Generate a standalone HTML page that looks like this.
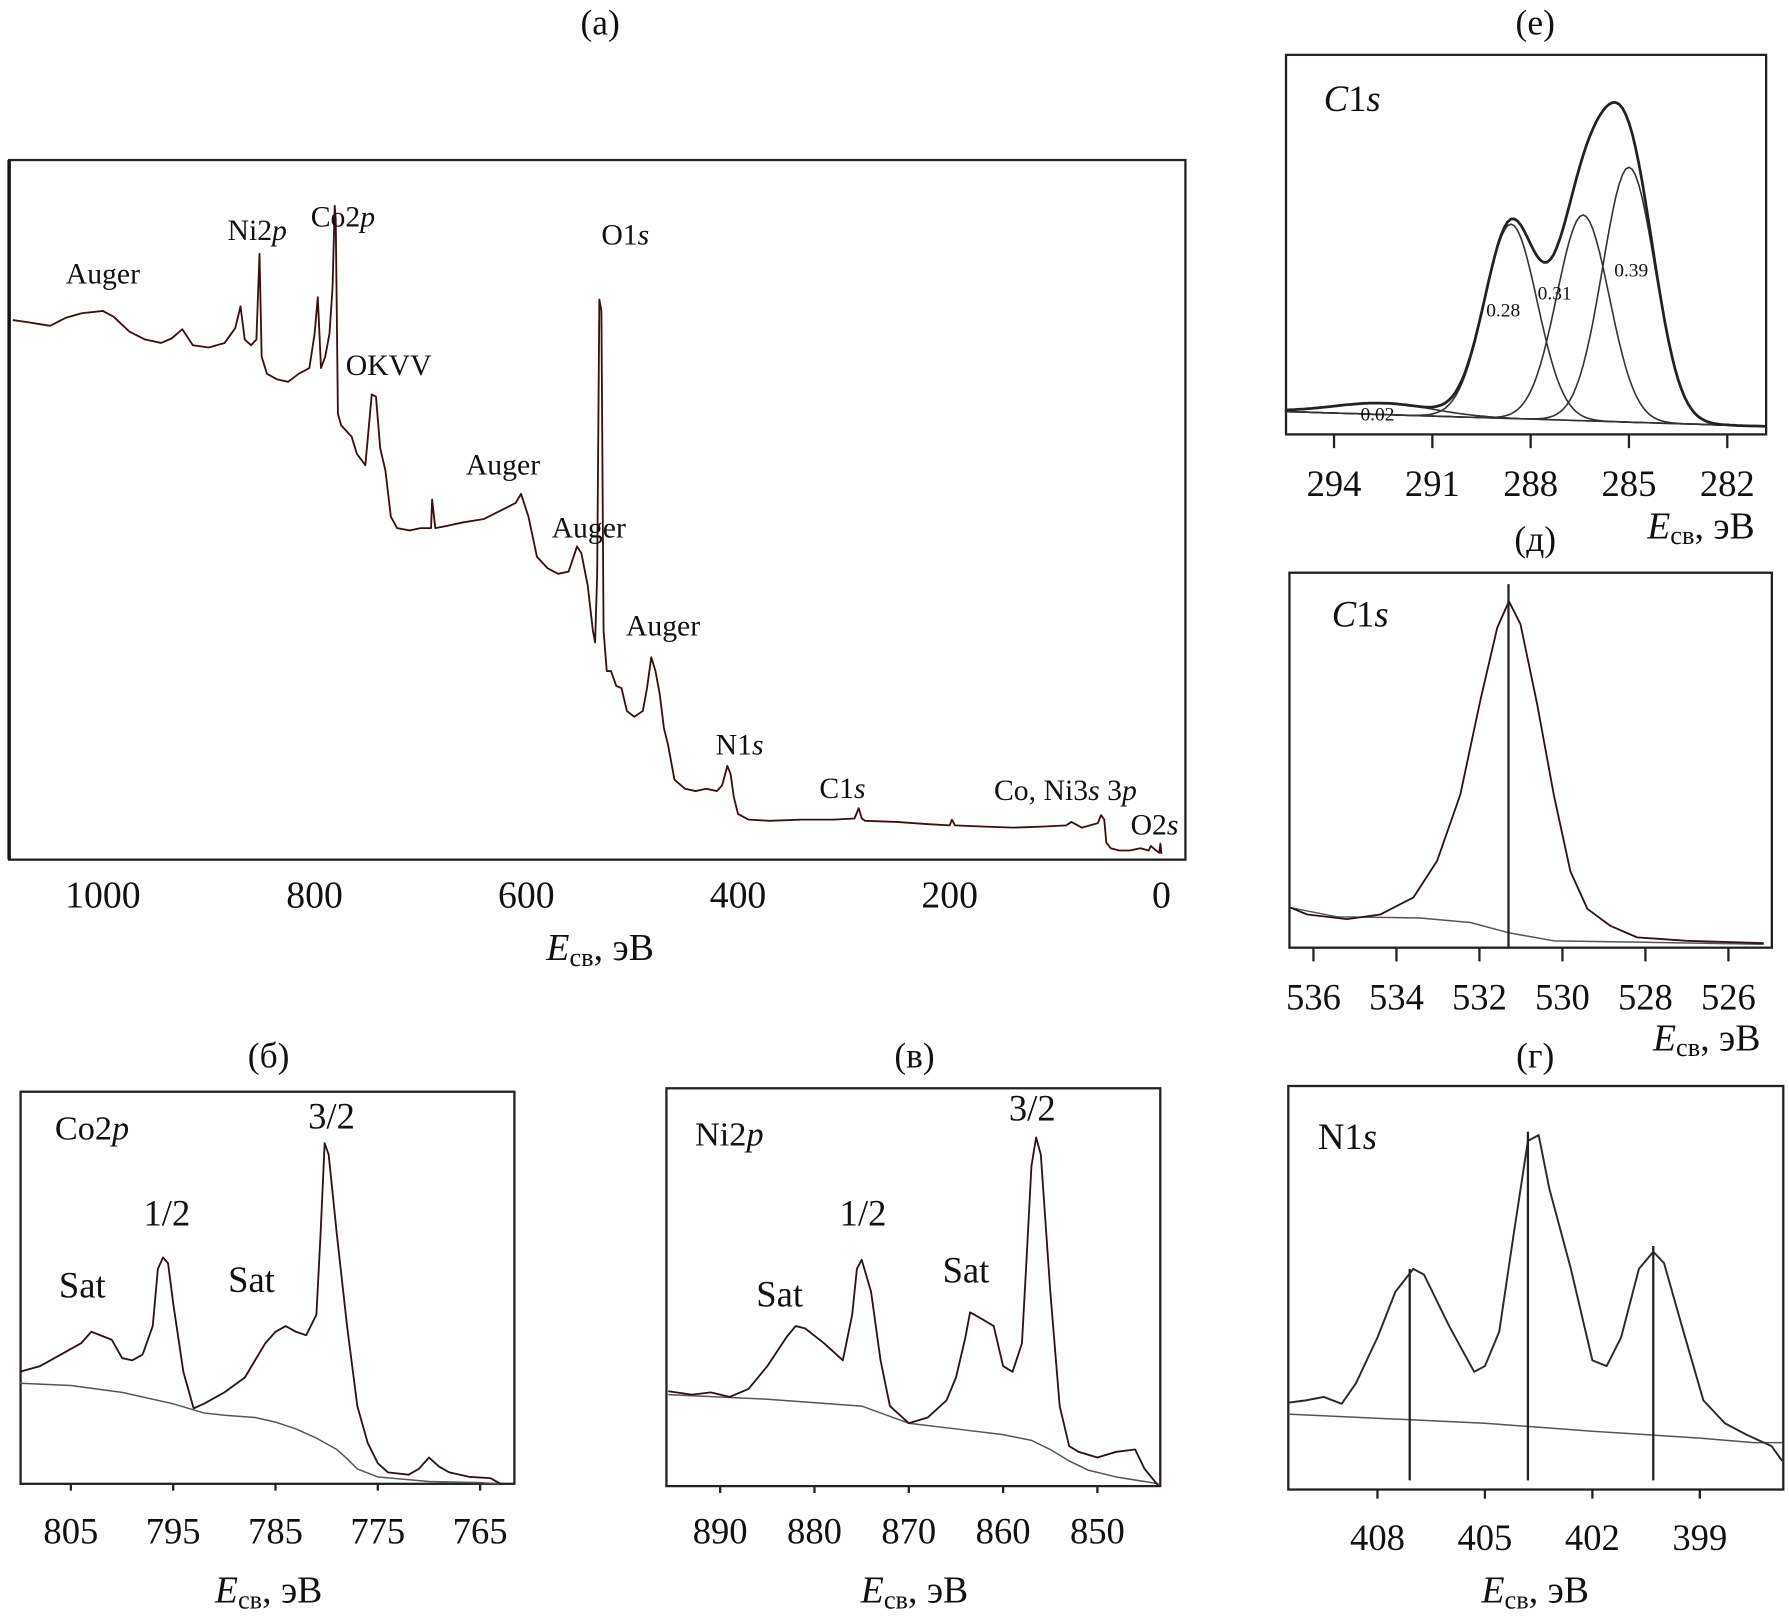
<!DOCTYPE html>
<html><head><meta charset="utf-8"><style>
html,body{margin:0;padding:0;background:#fff}
svg{display:block}
text{font-family:"Liberation Serif",serif;fill:#111}
</style></head><body>
<svg id="fig" xmlns="http://www.w3.org/2000/svg" width="1789" height="1621" viewBox="0 0 1565 1418" preserveAspectRatio="none">
<g id="root"></g>
</svg>
<script>
// ---------- DATA ----------
// (a) survey
const surveyE = [1085,1070,1050,1035,1020,1000,990,975,960,945,935,925,915,900,885,875,870,866,860,855,852,850,845,835,825,815,805,800,797,794,790,786,783,781,780,778,775,770,765,760,752,746,742,738,733,728,722,710,700,690,689,686,675,660,640,625,610,605,598,590,580,570,560,552,548,542,537,535,533,531,529,527,524,520,515,510,505,498,490,486,482,478,474,470,466,460,450,440,430,420,415,410,407,404,400,390,370,340,310,290,286,283,280,250,220,200,198,195,170,140,110,90,85,75,60,57,54,52,48,40,30,20,12,10,5,2,1,0];
const surveyI = [472,470,467,474,478,480,475,462,455,452,456,464,450,448,452,465,484,455,450,455,530,440,425,420,418,425,430,460,492,430,440,460,500,572,560,390,380,375,370,355,345,407,405,360,340,300,290,288,290,290,315,290,292,295,298,305,312,320,300,265,255,250,252,274,268,240,200,190,250,490,480,200,165,165,152,150,130,125,130,150,177,165,145,115,100,70,62,60,62,60,65,82,75,55,40,35,34,35,35,36,45,36,34,33,31,30,35,30,29,28,29,30,33,28,32,39,35,15,10,8,8,10,8,12,8,6,14,5];
const surveyTicks = [1000,800,600,400,200,0];
// (б) Co2p
const coE = [810,808,806,804,803,801,800,799,798,797,796.5,796,795.5,795,794,793,792,790,788,787,786,785,784,783,782,781,780.6,780.2,779.8,779,778,777,776,775,774,772,771,770,769,768,766,764,763];
const coI = [98,103,113,123,133,126,110,108,113,138,188,198,193,158,98,66,70,80,93,108,123,133,138,133,130,148,218,298,288,218,138,68,36,18,10,8,13,23,15,10,6,5,0];
const coBgE = [810,805,800,795,792,790,787,785,783,781,779,778,777,775,770,765,763];
const coBgI = [88,86,80,70,62,60,58,54,48,40,30,22,13,6,2,1,0];
const coTicks = [805,795,785,775,765];
// (в) Ni2p
const niE = [895.5,893,891,889,887,885,883,882,881,879,877,876,875.5,875,874,873,872,870,868,866,865,864,863.5,862,861,860,859,858,857.5,857,856.5,856,855,854,853,852,850,848,846,845,843.5];
const niI = [83,80,82,78,85,105,130,140,138,125,110,150,190,198,170,110,70,55,60,75,95,130,152,145,140,105,100,125,200,280,305,290,170,70,35,30,25,30,32,15,0];
const niBgE = [895.5,885,875,870,865,860,857,855,853,851,848,845,843.5];
const niBgI = [80,76,70,55,50,45,40,32,22,14,8,4,2];
const niTicks = [890,880,870,860,850];
// (е) C1s fit components
const cCenters = [292.5,288.6,286.4,285.0];
const cHeights = [10,170,180,223];
const cSigmas = [1.5,0.8,0.8,0.8];
const cLabels = ["0.02","0.28","0.31","0.39"];
const cBgE = [295.5,280.8];
const cBgI = [20,7];
const eTicks = [294,291,288,285,282];
// (д) O1s
const oE = [536.55,536.15,535.19,534.39,533.59,533.02,532.46,531.98,531.57,531.29,531.01,530.61,530.21,529.81,529.40,528.84,528.2,527.0,525.15];
const oI = [35,29,25,29,44,76,134,216,280,303,283,213,134,67,34,19,9,6,4];
const oBgE = [536.55,535.43,533.43,532.22,531.29,530.21,525.15];
const oBgI = [35,27,26,22,13,6,3];
const oPeak = [531.3];
const oTicks = [536,534,532,530,528,526];
// (г) N1s
const nE = [410.5,410,409.5,409,408.6,408,407.5,407,406.7,406,405.3,405,404.6,404.2,403.8,403.5,403.2,402.6,402,401.6,401.2,400.7,400.3,400,399.5,398.9,398.3,397.7,397,396.7];
const nI = [76,78,81,75,93,133,173,193,188,143,103,108,138,223,305,310,263,193,113,108,133,193,208,198,143,78,58,48,38,25];
const nBgE = [410.5,405,402,399,397.5,396.7];
const nBgI = [66,58,51,45,41,41];
const nPeaks = [407.1,403.8,400.3];
const nPeakI = [193,313,213];
const nTicks = [408,405,402,399];

// ---------- HELPERS ----------
const NS = "http://www.w3.org/2000/svg";
const root = document.getElementById('root');
function el(tag, attrs, parent){
  const e = document.createElementNS(NS, tag);
  for (const k in attrs) e.setAttribute(k, attrs[k]);
  (parent||root).appendChild(e);
  return e;
}
function linX(e0,p0,e1,p1){ return e => p0 + (e-e0)*(p1-p0)/(e1-e0); }
function pathD(xs, ys, xf, yf){
  return xs.map((v,i)=>(i?'L':'M')+xf(v).toFixed(1)+' '+yf(ys[i]).toFixed(1)).join(' ');
}
function txt(x,y,s,size,anchor,name){
  const t = el('text',{x:x,y:y,'font-size':size,'text-anchor':anchor||'middle'});
  t.textContent = s;
  
  
  return t;
}
function richLabel(x,y,parts,size,anchor,name){
  const t = el('text',{x:x,y:y,'font-size':size,'text-anchor':anchor||'middle'});
  
  
  parts.forEach(p=>{
    const s = document.createElementNS(NS,'tspan');
    s.textContent = p[0];
    if (p[1]==='i') s.setAttribute('font-style','italic');
    if (p[1]==='sub'){ s.setAttribute('font-size', size*0.7); s.setAttribute('dy', size*0.15); }
    if (p[1]==='unsub'){ s.setAttribute('dy', -size*0.15); }
    t.appendChild(s);
  });
  return t;
}
function axisTitle(x,y,size,anchor,name){
  return richLabel(x,y,[['E','i'],['св','sub'],[', эВ','unsub']],size,anchor,name);
}
function box(l,t,r,b,name){
  const rc = el('rect',{x:l,y:t,width:r-l,height:b-t,fill:'none',stroke:'#222','stroke-width':2});
  
  
}
function ticks(vals,xf,bottom,len,ly,size,name){
  vals.forEach(v=>{
    const ln = el('line',{x1:xf(v),x2:xf(v),y1:bottom,y2:bottom+len,stroke:'#222','stroke-width':2});
    
    
    txt(xf(v), ly, String(v), size, 'middle', name+'-tick-label');
  });
}
function curve(xs,ys,xf,yf,w,color,name){
  const p = el('path',{d:pathD(xs,ys,xf,yf),fill:'none',stroke:color||'#222','stroke-width':w||1.6,'stroke-linejoin':'round'});
  
  
  return p;
}
const TICK = 32, AX = 33;

// ---------- (a) SURVEY ----------
(function(){
  const L=8,T=140,R=1037,B=752;
  const xf = linX(0,1016,1000,90);
  const yf = i => B - i;
  txt(525,30,'(a)',31,'middle','panel-a-title');
  box(L,T,R,B,'survey-plot-frame');
  const edge = el('line',{x1:L,x2:L,y1:T,y2:B,stroke:'#111','stroke-width':3});
  
  
  ticks(surveyTicks,xf,B,0,794,33,'survey-x');
  axisTitle(525,840,AX,'middle','survey-x-axis-title');
  curve(surveyE,surveyI,xf,yf,1.6,'#3a1010','survey-spectrum');
  const ann = [[90,248,[['Auger']]],[225,210,[['Ni2'],['p','i']]],[300,198,[['Co2'],['p','i']]],[547,214,[['O1'],['s','i']]],
    [340,328,[['OKVV']]],[440,415,[['Auger']]],[515,470,[['Auger']]],[580,556,[['Auger']]],[647,660,[['N1'],['s','i']]],
    [737,698,[['C1'],['s','i']]],[932,700,[['Co, Ni3'],['s','i'],[' 3'],['p','i']]],[1010,730,[['O2'],['s','i']]]];
  ann.forEach(a=>richLabel(a[0],a[1],a[2],26,'middle','survey-peak-label'));
})();

// ---------- (б) Co2p ----------
(function(){
  const L=18,T=955,R=450,B=1298;
  const xf = linX(805,62,765,420);
  const yf = i => B - i;
  txt(235,934,'(б)',31,'middle','panel-b-title');
  box(L,T,R,B,'co2p-plot-frame');
  curve(coBgE,coBgI,xf,yf,1.3,'#555','co2p-background');
  curve(coE,coI,xf,yf,1.6,'#2a1414','co2p-spectrum');
  ticks(coTicks,xf,B,6,1350,TICK,'co2p-x');
  axisTitle(235,1402,AX,'middle','co2p-x-axis-title');
  richLabel(48,997,[['Co2'],['p','i']],30,'start','co2p-label');
  txt(72,1135,'Sat',32,'middle','co2p-sat1-label');
  txt(146,1072,'1/2',32,'middle','co2p-half-label');
  txt(220,1130,'Sat',32,'middle','co2p-sat2-label');
  txt(290,987,'3/2',32,'middle','co2p-3half-label');
})();

// ---------- (в) Ni2p ----------
(function(){
  const L=583,T=952,R=1015,B=1300;
  const xf = linX(890,630,850,960);
  const yf = i => B - i;
  txt(800,934,'(в)',31,'middle','panel-v-title');
  box(L,T,R,B,'ni2p-plot-frame');
  curve(niBgE,niBgI,xf,yf,1.3,'#555','ni2p-background');
  curve(niE,niI,xf,yf,1.6,'#2a1414','ni2p-spectrum');
  ticks(niTicks,xf,B,6,1350,TICK,'ni2p-x');
  axisTitle(800,1402,AX,'middle','ni2p-x-axis-title');
  richLabel(608,1002,[['Ni2'],['p','i']],30,'start','ni2p-label');
  txt(682,1143,'Sat',32,'middle','ni2p-sat1-label');
  txt(755,1072,'1/2',32,'middle','ni2p-half-label');
  txt(845,1122,'Sat',32,'middle','ni2p-sat2-label');
  txt(903,980,'3/2',32,'middle','ni2p-3half-label');
})();

// ---------- (е) C1s fit ----------
(function(){
  const L=1125,T=48,R=1545,B=380;
  const xf = linX(294,1167,282,1511);
  const yf = i => B - i;
  txt(1343,30,'(е)',31,'middle','panel-e-title');
  box(L,T,R,B,'c1s-fit-plot-frame');
  const bg = e => cBgI[0] + (e-cBgE[0])*(cBgI[1]-cBgI[0])/(cBgE[1]-cBgE[0]);
  curve(cBgE,cBgI,xf,yf,1.3,'#555','c1s-fit-background');
  const grid = [];
  for (let e = cBgE[0]; e >= cBgE[1]-0.001; e -= 0.1) grid.push(+e.toFixed(2));
  const comp = (k,e) => cHeights[k]*Math.exp(-Math.pow(e-cCenters[k],2)/(2*cSigmas[k]*cSigmas[k]));
  cCenters.forEach((c,k)=>{
    const ys = grid.map(e=>bg(e)+comp(k,e));
    curve(grid,ys,xf,yf,1.4,'#333','c1s-component-'+cLabels[k]);
  });
  const env = grid.map(e=>bg(e)+cCenters.reduce((s,_,k)=>s+comp(k,e),0));
  curve(grid,env,xf,yf,2.4,'#222','c1s-envelope');
  const lp = [[1205,368],[1315,277],[1360,262],[1427,242]];
  cLabels.forEach((l,k)=>txt(lp[k][0],lp[k][1],l,17,'middle','c1s-component-label'));
  ticks(eTicks,xf,B,12,434,TICK,'c1s-x');
  axisTitle(1535,471,AX,'end','c1s-x-axis-title');
  richLabel(1158,97,[['C','i'],['1'],['s','i']],32,'start','c1s-label');
})();

// ---------- (д) O1s ----------
(function(){
  const L=1128,T=501,R=1550,B=829;
  const xf = linX(536,1149,528,1439.4);
  const yf = i => B - i;
  txt(1343,482,'(д)',31,'middle','panel-d-title');
  box(L,T,R,B,'o1s-plot-frame');
  curve(oBgE,oBgI,xf,yf,1.3,'#555','o1s-background');
  curve(oE,oI,xf,yf,1.6,'#2a1414','o1s-spectrum');
  oPeak.forEach(p=>{
    const ln = el('line',{x1:xf(p),x2:xf(p),y1:yf(318),y2:B,stroke:'#222','stroke-width':2});
    
    
  });
  ticks(oTicks,xf,B,12,883,TICK,'o1s-x');
  axisTitle(1540,919,AX,'end','o1s-x-axis-title');
  richLabel(1165,548,[['C','i'],['1'],['s','i']],32,'start','o1s-label');
})();

// ---------- (г) N1s ----------
(function(){
  const L=1127,T=950,R=1560,B=1303;
  const xf = linX(408,1205,399,1487);
  const yf = i => B - i;
  txt(1343,934,'(г)',31,'middle','panel-g-title');
  box(L,T,R,B,'n1s-plot-frame');
  curve(nBgE,nBgI,xf,yf,1.3,'#555','n1s-background');
  curve(nE,nI,xf,yf,1.7,'#2a2a2a','n1s-spectrum');
  nPeaks.forEach((p,k)=>{
    const ln = el('line',{x1:xf(p),x2:xf(p),y1:yf(nPeakI[k]),y2:yf(8),stroke:'#222','stroke-width':2});
    
    
  });
  ticks(nTicks,xf,B,8,1356,TICK,'n1s-x');
  axisTitle(1343,1402,AX,'middle','n1s-x-axis-title');
  richLabel(1153,1005,[['N1'],['s','i']],32,'start','n1s-label');
})();
</script>
</body></html>
